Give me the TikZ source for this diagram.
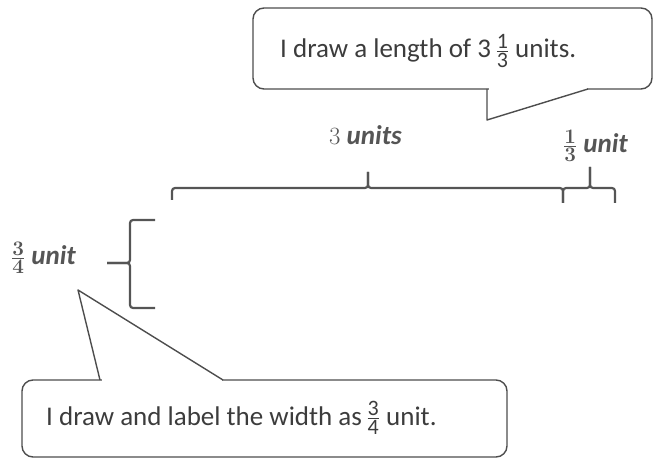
\documentclass[tikz,border=0pt]{standalone}
\usepackage{amsmath}
\usepackage{fontspec}
\setmainfont{Carlito}
\definecolor{textc}{HTML}{3C3C3C}
\definecolor{linec}{HTML}{4D4D4D}
\definecolor{bracec}{HTML}{555555}
\definecolor{lblc}{HTML}{555555}
% fraction with text-font digits (callouts)
\newcommand{\tfr}[2]{$\frac{\mbox{\fontsize{22bp}{22bp}\selectfont #1}}{\mbox{\fontsize{22bp}{22bp}\selectfont #2}}$}
% fraction with serif math digits (labels)
\newcommand{\lfr}[2]{$\frac{\mbox{\fontsize{20bp}{20bp}\selectfont\boldmath$#1$}}{\mbox{\fontsize{20bp}{20bp}\selectfont\boldmath$#2$}}$}
\begin{document}
\begin{tikzpicture}[x=1bp,y=-1bp,line join=round]
\tikzset{
  callout/.style={draw=linec, line width=1.4bp, rounded corners=11bp},
  tailline/.style={draw=linec, line width=1.4bp},
  bracel/.style={draw=bracec, line width=2.2bp, rounded corners=3bp},
  saytext/.style={font=\fontsize{27bp}{32bp}\selectfont, text=textc, inner sep=0pt},
  lbl/.style={font=\fontsize{27bp}{32bp}\selectfont\bfseries\itshape, text=lblc, inner sep=0pt},
}
\useasboundingbox (0,0) rectangle (655,460);

% top callout
\draw[callout] (253,8) rectangle (652,89);
\fill[white] (488.5,86.5) rectangle (586.5,91.5);
\draw[tailline] (487,89) -- (487,120) -- (588,89);
\node[saytext, anchor=base west] (say1) at (280,58)
  {I draw a length of 3\,\tfr{1}{3} units.};

% bottom callout
\draw[callout] (22,380) rectangle (507,457);
\fill[white] (101.5,377.5) rectangle (221.5,382.5);
\draw[tailline] (100,380) -- (78,290) -- (223,380);
\node[saytext, anchor=base west] (say2) at (46,425)
  {I draw and label the width as\,\tfr{3}{4} unit.};

% labels
\node[lbl, anchor=base west] (l3) at (329,145) {$3$ units};
\node[lbl, anchor=base west] (l13) at (563,153) {\lfr{1}{3} unit};
\node[lbl, anchor=base west] (l34) at (11,265) {\lfr{3}{4} unit};

% top big brace
\draw[bracel] (172,200) -- (172,188) -- (368,188) -- (368,172);
\draw[bracel] (563,203) -- (563,188) -- (368,188) -- (368,172);
% top small brace
\draw[bracel] (563,203) -- (563,188) -- (590,188) -- (590,167);
\draw[bracel] (615,203) -- (615,188) -- (590,188) -- (590,167);
% left brace
\draw[bracel] (155,220) -- (130,220) -- (130,263) -- (107,263);
\draw[bracel] (155,308) -- (130,308) -- (130,263) -- (107,263);
\end{tikzpicture}
\end{document}
